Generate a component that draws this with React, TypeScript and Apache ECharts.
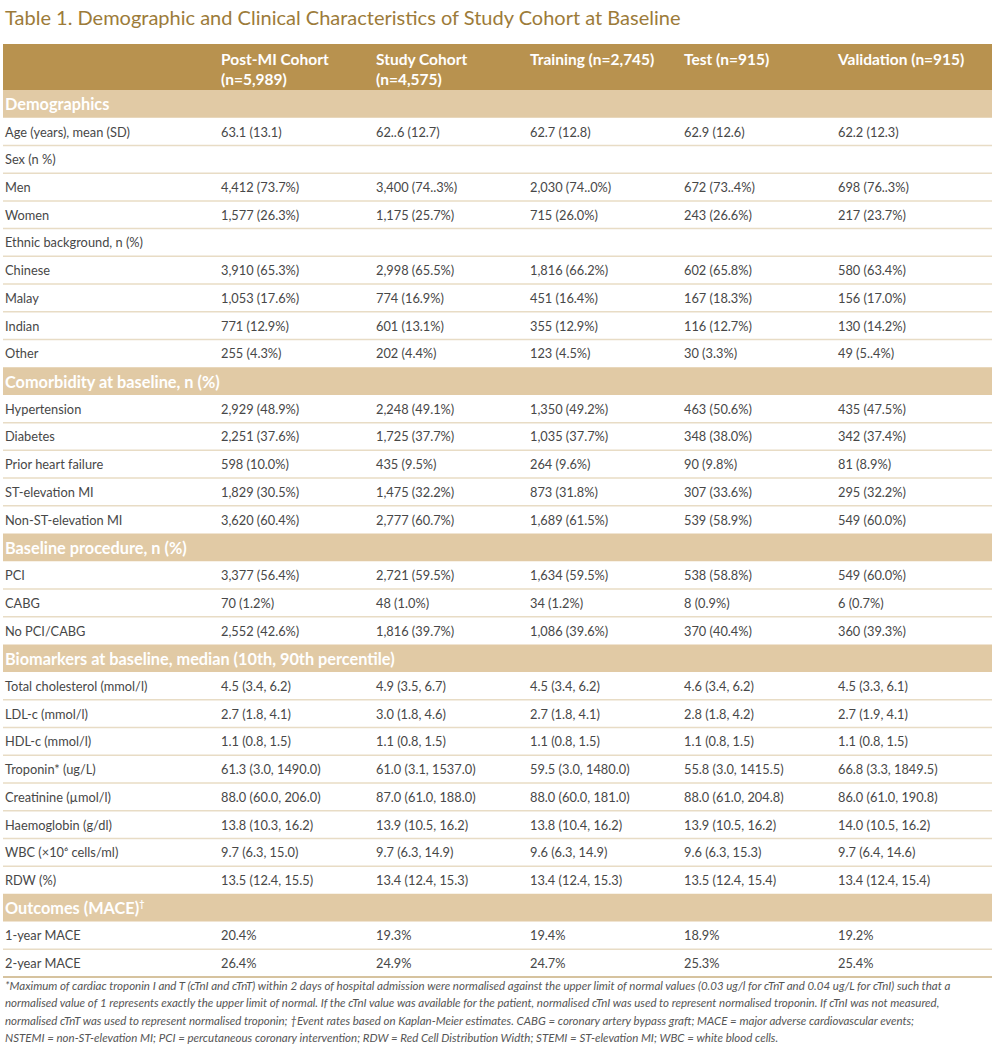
import React, { useEffect, useRef } from "react";
import * as echarts from "echarts";

const TITLE = "Table 1. Demographic and Clinical Characteristics of Study Cohort at Baseline";

const columnHeaders = [
  "Post-MI Cohort\n(n=5,989)",
  "Study Cohort\n(n=4,575)",
  "Training (n=2,745)",
  "Test (n=915)",
  "Validation (n=915)",
];

// "#" prefix marks section header rows
const rowLabels = [
  "#Demographics",
  "Age (years), mean (SD)",
  "Sex (n %)",
  "Men",
  "Women",
  "Ethnic background, n (%)",
  "Chinese",
  "Malay",
  "Indian",
  "Other",
  "#Comorbidity at baseline, n (%)",
  "Hypertension",
  "Diabetes",
  "Prior heart failure",
  "ST-elevation MI",
  "Non-ST-elevation MI",
  "#Baseline procedure, n (%)",
  "PCI",
  "CABG",
  "No PCI/CABG",
  "#Biomarkers at baseline, median (10th, 90th percentile)",
  "Total cholesterol (mmol/l)",
  "LDL-c (mmol/l)",
  "HDL-c (mmol/l)",
  "Troponin* (ug/L)",
  "Creatinine (µmol/l)",
  "Haemoglobin (g/dl)",
  "WBC (×10⁶ cells/ml)",
  "RDW (%)",
  "#Outcomes (MACE)",
  "1-year MACE",
  "2-year MACE",
];

const postMI = ["", "63.1 (13.1)", "", "4,412 (73.7%)", "1,577 (26.3%)", "", "3,910 (65.3%)", "1,053 (17.6%)", "771 (12.9%)", "255 (4.3%)",
  "", "2,929 (48.9%)", "2,251 (37.6%)", "598 (10.0%)", "1,829 (30.5%)", "3,620 (60.4%)",
  "", "3,377 (56.4%)", "70 (1.2%)", "2,552 (42.6%)",
  "", "4.5 (3.4, 6.2)", "2.7 (1.8, 4.1)", "1.1 (0.8, 1.5)", "61.3 (3.0, 1490.0)", "88.0 (60.0, 206.0)", "13.8 (10.3, 16.2)", "9.7 (6.3, 15.0)", "13.5 (12.4, 15.5)",
  "", "20.4%", "26.4%"];

const studyCohort = ["", "62..6 (12.7)", "", "3,400 (74..3%)", "1,175 (25.7%)", "", "2,998 (65.5%)", "774 (16.9%)", "601 (13.1%)", "202 (4.4%)",
  "", "2,248 (49.1%)", "1,725 (37.7%)", "435 (9.5%)", "1,475 (32.2%)", "2,777 (60.7%)",
  "", "2,721 (59.5%)", "48 (1.0%)", "1,816 (39.7%)",
  "", "4.9 (3.5, 6.7)", "3.0 (1.8, 4.6)", "1.1 (0.8, 1.5)", "61.0 (3.1, 1537.0)", "87.0 (61.0, 188.0)", "13.9 (10.5, 16.2)", "9.7 (6.3, 14.9)", "13.4 (12.4, 15.3)",
  "", "19.3%", "24.9%"];

const training = ["", "62.7 (12.8)", "", "2,030 (74..0%)", "715 (26.0%)", "", "1,816 (66.2%)", "451 (16.4%)", "355 (12.9%)", "123 (4.5%)",
  "", "1,350 (49.2%)", "1,035 (37.7%)", "264 (9.6%)", "873 (31.8%)", "1,689 (61.5%)",
  "", "1,634 (59.5%)", "34 (1.2%)", "1,086 (39.6%)",
  "", "4.5 (3.4, 6.2)", "2.7 (1.8, 4.1)", "1.1 (0.8, 1.5)", "59.5 (3.0, 1480.0)", "88.0 (60.0, 181.0)", "13.8 (10.4, 16.2)", "9.6 (6.3, 14.9)", "13.4 (12.4, 15.3)",
  "", "19.4%", "24.7%"];

const test = ["", "62.9 (12.6)", "", "672 (73..4%)", "243 (26.6%)", "", "602 (65.8%)", "167 (18.3%)", "116 (12.7%)", "30 (3.3%)",
  "", "463 (50.6%)", "348 (38.0%)", "90 (9.8%)", "307 (33.6%)", "539 (58.9%)",
  "", "538 (58.8%)", "8 (0.9%)", "370 (40.4%)",
  "", "4.6 (3.4, 6.2)", "2.8 (1.8, 4.2)", "1.1 (0.8, 1.5)", "55.8 (3.0, 1415.5)", "88.0 (61.0, 204.8)", "13.9 (10.5, 16.2)", "9.6 (6.3, 15.3)", "13.5 (12.4, 15.4)",
  "", "18.9%", "25.3%"];

const validation = ["", "62.2 (12.3)", "", "698 (76..3%)", "217 (23.7%)", "", "580 (63.4%)", "156 (17.0%)", "130 (14.2%)", "49 (5..4%)",
  "", "435 (47.5%)", "342 (37.4%)", "81 (8.9%)", "295 (32.2%)", "549 (60.0%)",
  "", "549 (60.0%)", "6 (0.7%)", "360 (39.3%)",
  "", "4.5 (3.3, 6.1)", "2.7 (1.9, 4.1)", "1.1 (0.8, 1.5)", "66.8 (3.3, 1849.5)", "86.0 (61.0, 190.8)", "14.0 (10.5, 16.2)", "9.7 (6.4, 14.6)", "13.4 (12.4, 15.4)",
  "", "19.2%", "25.4%"];

const footnoteLines = [
  "*Maximum of cardiac troponin I and T (cTnI and cTnT) within 2 days of hospital admission were normalised against the upper limit of normal values (0.03 ug/l for cTnT and 0.04 ug/L for cTnI) such that a",
  "normalised value of 1 represents exactly the upper limit of normal. If the cTnI value was available for the patient, normalised cTnI was used to represent normalised troponin. If cTnI was not measured,",
  "normalised cTnT was used to represent normalised troponin; †Event rates based on Kaplan-Meier estimates. CABG = coronary artery bypass graft; MACE = major adverse cardiovascular events;",
  "NSTEMI = non-ST-elevation MI; PCI = percutaneous coronary intervention; RDW = Red Cell Distribution Width; STEMI = ST-elevation MI; WBC = white blood cells.",
];

const FONT = "Lato, 'Open Sans', sans-serif";
const GOLD = "#b8924f";
const SECTION = "#e1caa5";
const LINE = "#e8dcc5";
const TEXT = "#474747";

export default function App() {
  const ref = useRef<HTMLDivElement>(null);
  useEffect(() => {
    if (!ref.current) return;
    const chart = echarts.init(ref.current, null, { renderer: "svg" });
    const left = 3;
    const right = 992;
    const width = right - left;
    const headTop = 44;
    const headBottom = 90;
    const pitch = (977 - 90) / rowLabels.length;
    const colX = [221, 376, 530, 684, 838];
    const cols = [postMI, studyCohort, training, test, validation];
    const els: any[] = [];

    els.push({
      type: "text", x: 5, y: 17,
      style: { text: TITLE, fill: "#9c7b39", font: `20px ${FONT}`, textVerticalAlign: "middle" },
    });
    els.push({ type: "rect", shape: { x: left, y: headTop, width, height: headBottom - headTop }, style: { fill: GOLD } });
    columnHeaders.forEach((h, i) => {
      els.push({
        type: "text", x: colX[i], y: 49,
        style: { text: h, fill: "#ffffff", font: `bold 15.5px ${FONT}`, lineHeight: 20, textVerticalAlign: "top" },
      });
    });

    rowLabels.forEach((lab, r) => {
      const top = headBottom + r * pitch;
      const cy = top + pitch / 2;
      const isSection = lab.startsWith("#");
      if (isSection) {
        els.push({ type: "rect", shape: { x: left, y: top, width, height: pitch }, style: { fill: SECTION } });
        const txt = lab.slice(1);
        if (txt === "Outcomes (MACE)") {
          els.push({
            type: "text", x: 5, y: cy,
            style: {
              text: "{a|Outcomes (MACE)}{s|†}",
              textVerticalAlign: "middle",
              rich: {
                a: { fill: "#ffffff", font: `bold 16.3px ${FONT}` },
                s: { fill: "#ffffff", font: `bold 9px ${FONT}`, padding: [0, 0, 8, 0] },
              },
            },
          });
        } else {
          els.push({
            type: "text", x: 5, y: cy,
            style: { text: txt, fill: "#ffffff", font: `bold 16.3px ${FONT}`, textVerticalAlign: "middle" },
          });
        }
      } else {
        const prevSection = r === 0 || rowLabels[r - 1].startsWith("#");
        if (!prevSection) {
          els.push({ type: "line", shape: { x1: left, y1: top, x2: right, y2: top }, style: { stroke: LINE, lineWidth: 1.5 } });
        }
        els.push({
          type: "text", x: 5, y: cy,
          style: { text: lab, fill: TEXT, font: `12.8px ${FONT}`, textVerticalAlign: "middle" },
        });
        cols.forEach((c, ci) => {
          if (c[r]) {
            els.push({
              type: "text", x: colX[ci], y: cy,
              style: { text: c[r], fill: TEXT, font: `12.8px ${FONT}`, textVerticalAlign: "middle" },
            });
          }
        });
      }
    });
    els.push({ type: "line", shape: { x1: left, y1: 977, x2: right, y2: 977 }, style: { stroke: "#d6c39f", lineWidth: 2 } });

    footnoteLines.forEach((t, i) => {
      els.push({
        type: "text", x: 5, y: 985 + i * 17.6,
        style: { text: t, fill: "#555555", font: `italic 11.5px ${FONT}`, textVerticalAlign: "middle" },
      });
    });

    chart.setOption({ animation: false, backgroundColor: "#ffffff", graphic: { elements: els } });
    return () => chart.dispose();
  }, []);
  return <div ref={ref} style={{ position: "absolute", left: 0, top: 0, width: 1000, height: 1054 }} />;
}
